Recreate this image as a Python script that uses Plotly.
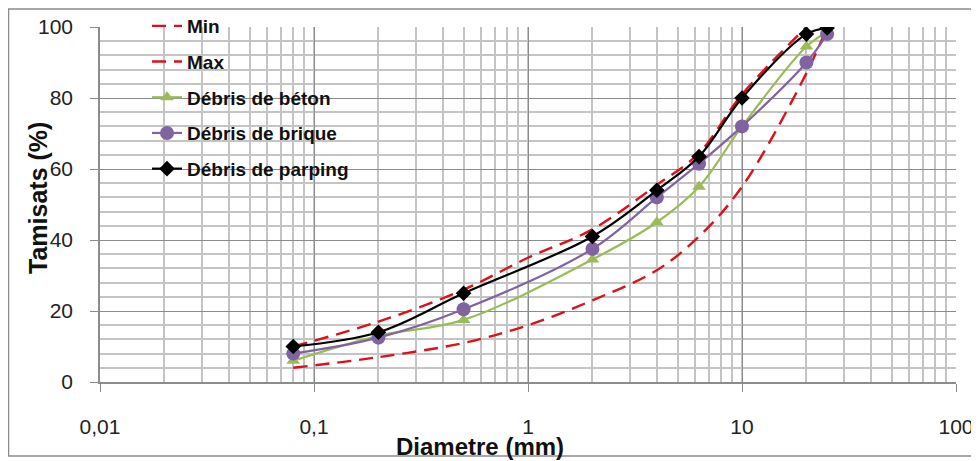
import plotly.graph_objects as go

# ---- data ----
sieves = [0.08, 0.2, 0.5, 2, 4, 6.3, 10, 20, 25]
beton = [6, 13, 17.5, 34.5, 45, 55, 72, 94.5, 98.5]
brique = [8, 12.5, 20.5, 37.5, 52, 61.5, 72, 90, 98]
parping = [10, 14, 25, 41, 54, 63.5, 80, 98, 99.7]

min_x = [0.08, 0.2, 0.5, 1, 2, 4, 6.3, 10, 20]
min_y = [10, 17, 26, 35, 43, 55.5, 64.5, 81, 100]
max_x = [0.08, 0.2, 0.5, 1, 2, 4, 6.3, 10, 20, 25]
max_y = [4, 7, 11, 16, 23, 31.5, 41, 55, 87, 100]

x_ticks = [0.01, 0.1, 1, 10, 100]
x_ticktext = ["0,01", "0,1", "1", "10", "100"]

RED = "#DC101A"
GREEN = "#9BBB59"
PURPLE = "#8064A2"
BLACK = "#000000"

fig = go.Figure()
fig.add_trace(go.Scatter(x=min_x, y=min_y, name="<b>Min</b>", mode="lines", legendgroup="a",
                         line=dict(color=RED, width=2.4, dash="14px,8px", shape="spline")))
fig.add_trace(go.Scatter(x=max_x, y=max_y, name="<b>Max</b>", mode="lines", legendgroup="b",
                         line=dict(color=RED, width=2.4, dash="14px,8px", shape="spline")))
fig.add_trace(go.Scatter(x=sieves, y=beton, name="<b>Débris de béton</b>", mode="lines+markers", legendgroup="c",
                         line=dict(color=GREEN, width=2.2, shape="spline"),
                         marker=dict(symbol="triangle-up", size=12, color=GREEN)))
fig.add_trace(go.Scatter(x=sieves, y=brique, name="<b>Débris de brique</b>", mode="lines+markers", legendgroup="d",
                         line=dict(color=PURPLE, width=2.2, shape="spline"),
                         marker=dict(symbol="circle", size=14, color=PURPLE)))
fig.add_trace(go.Scatter(x=sieves, y=parping, name="<b>Débris de parping</b>", mode="lines+markers", legendgroup="e",
                         line=dict(color=BLACK, width=2.2, shape="spline"),
                         marker=dict(symbol="diamond", size=12, color=BLACK)))

# the page body adds an 8px offset; figure sized to fit the window
OFF = 8
W, H = 979 - OFF, 461 - OFF
L, T = 100 - OFF, 27 - OFF
R = W - (956 - OFF)
B = H - (382 - OFF)
pw, ph = W - L - R, H - T - B

def px2x(px):  # screen px -> paper x
    return (px - OFF - L) / pw

def px2y(py):  # screen px -> paper y
    return (H - B - (py - OFF)) / ph

fig.update_layout(
    width=W, height=H,
    margin=dict(l=L, r=R, t=T, b=B, autoexpand=False),
    paper_bgcolor="white", plot_bgcolor="white",
    font=dict(family="Liberation Sans, Arial, sans-serif", color="#222222", size=21),
    showlegend=True,
    legend=dict(x=px2x(147), y=px2y(7), xanchor="left", yanchor="top",
                bgcolor="rgba(0,0,0,0)", traceorder="grouped", tracegroupgap=8,
                font=dict(size=19, color="#111111", family="Liberation Sans, Arial, sans-serif")),
    xaxis=dict(type="log", range=[-2, 2], tickvals=x_ticks, ticktext=x_ticktext,
               automargin=False,
               showgrid=True, gridcolor="#8C8C8C", gridwidth=1,
               minor=dict(dtick="D1", showgrid=True, gridcolor="#C4C4C4", gridwidth=1.5, ticks=""),
               ticks="outside", ticklen=8, tickcolor="#8C8C8C",
               showline=True, linecolor="#8C8C8C", linewidth=1.5,
               ticklabelstandoff=17, zeroline=False),
    yaxis=dict(range=[0, 100], dtick=20, automargin=False,
               showgrid=True, gridcolor="#8C8C8C", gridwidth=1,
               minor=dict(dtick=4, showgrid=True, gridcolor="#C4C4C4", gridwidth=1.5, ticks=""),
               ticks="outside", ticklen=8, tickcolor="#8C8C8C",
               showline=True, linecolor="#8C8C8C", linewidth=1.5,
               ticklabelstandoff=13, zeroline=False),
    annotations=[
        dict(text="<b>Diametre (mm)</b>", xref="paper", yref="paper", x=px2x(480), y=px2y(446),
             xanchor="center", yanchor="middle", showarrow=False,
             font=dict(size=24, color="#111111")),
        dict(text="<b>Tamisats (%)</b>", xref="paper", yref="paper", x=px2x(38), y=px2y(198),
             xanchor="center", yanchor="middle", showarrow=False, textangle=-90,
             font=dict(size=25, color="#111111")),
    ],
    shapes=[
        dict(type="rect", xref="paper", yref="paper", x0=px2x(8.5), x1=px2x(972),
             y0=px2y(456), y1=px2y(9), line=dict(color="#8C8C8C", width=1.5), layer="below"),
    ],
)

fig.write_html("out.html")
